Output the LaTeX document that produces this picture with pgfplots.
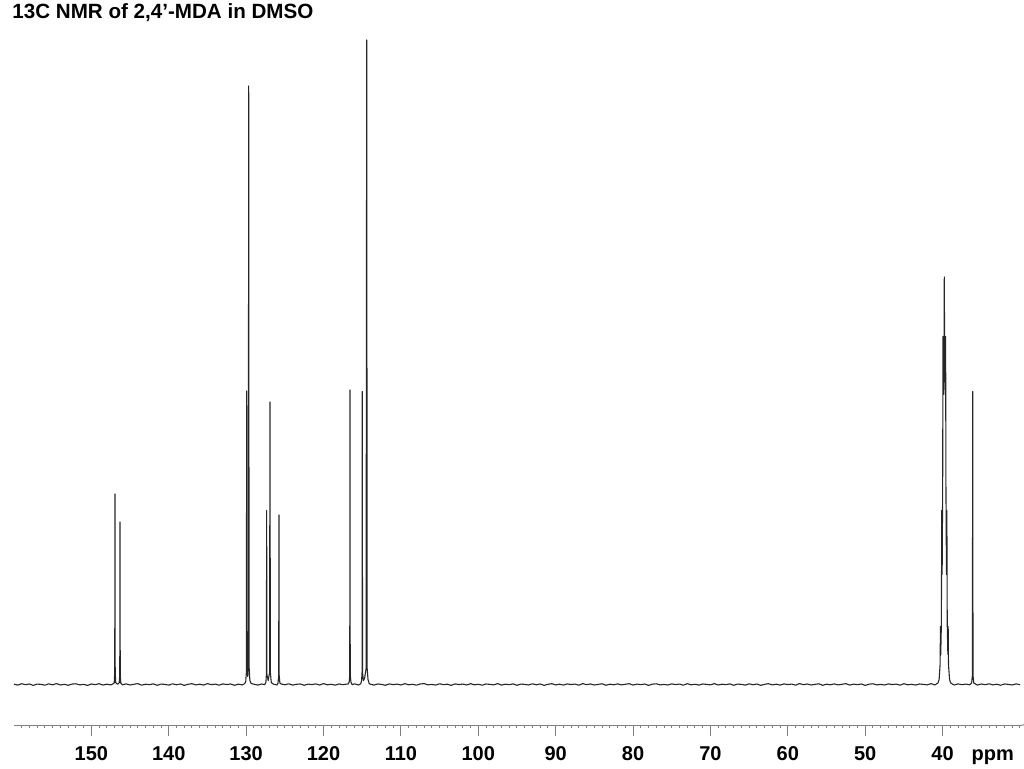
\documentclass[border=0pt]{standalone}
\usepackage{fontspec}
\setmainfont{Liberation Sans}
\usepackage{pgfplots}
\usepackage{pgfplotstable}
\pgfplotsset{compat=1.18}

% 13C spectrum of 2,4'-MDA (DMSO-d6): chemical shift / intensity
\pgfplotstableread{
ppm I
160.0 0.3
159.5 -0.6
159.0 0.8
158.5 -0.2
158.0 0.5
157.5 -0.9
157.0 0.4
156.5 0.1
156.0 -0.7
155.5 0.6
155.0 -0.3
154.5 0.9
154.0 -0.5
153.5 0.2
153.0 -0.8
152.5 0.4
152.0 0.7
151.5 -0.4
151.0 0.1
150.5 -0.9
150.0 0.5
149.5 -0.2
149.0 0.8
148.5 -0.6
148.0 0.3
147.5 -0.4
147.2 0.6
147.05 1.5
146.98 12
146.95 190.5
146.92 12
146.85 1.8
146.62 0.2
146.40 1.8
146.33 10
146.30 162.5
146.27 10
146.20 1.5
146.0 -0.3
145.5 0.6
145.0 -0.5
144.5 0.2
144.0 0.9
143.5 -0.7
143.0 0.3
142.5 -0.2
142.0 0.6
141.5 -0.8
141.0 0.4
140.5 0.1
140.0 -0.6
139.5 0.7
139.0 -0.3
138.5 0.5
138.0 -0.9
137.5 0.2
137.0 0.8
136.5 -0.4
136.0 0.3
135.5 -0.6
135.0 0.9
134.5 -0.2
134.0 0.4
133.5 -0.7
133.0 0.6
132.5 -0.1
132.0 0.5
131.5 -0.8
131.0 0.3
130.5 -0.4
130.2 0.8
130.05 3
129.97 12
129.93 293.5
129.89 14
129.80 8
129.72 20
129.67 598.5
129.62 18
129.52 4
129.35 1
129.0 0.3
128.5 -0.6
128.0 0.5
127.6 -0.2
127.45 2
127.38 10
127.35 174
127.32 10
127.15 4
126.97 12
126.92 282.5
126.87 12
126.75 2
126.5 0.4
126.0 -0.5
125.88 1.5
125.79 9
125.76 169.5
125.73 9
125.64 1.5
125.5 0.6
125.0 -0.3
124.5 0.7
124.0 -0.6
123.5 0.2
123.0 0.5
122.5 -0.8
122.0 0.4
121.5 -0.1
121.0 0.6
120.5 -0.5
120.0 0.9
119.5 -0.3
119.0 0.2
118.5 -0.7
118.0 0.5
117.5 -0.2
117.0 0.4
116.8 0.5
116.68 2.5
116.61 10
116.58 294.5
116.55 10
116.46 2.5
116.3 -0.3
116.0 0.7
115.5 -0.5
115.2 0.6
115.08 4
115.02 12
114.99 293
114.96 12
114.85 4
114.70 6
114.50 16
114.42 644.5
114.36 16
114.25 5
114.1 1
114.0 0.4
113.5 -0.6
113.0 0.5
112.5 0.1
112.0 -0.8
111.5 0.6
111.0 -0.2
110.5 0.4
110.0 -0.5
109.5 0.8
109.0 -0.3
108.5 0.2
108.0 -0.7
107.5 0.5
107.0 0.9
106.5 -0.4
106.0 0.1
105.5 -0.6
105.0 0.7
104.5 -0.2
104.0 0.3
103.5 -0.9
103.0 0.6
102.5 -0.1
102.0 0.4
101.5 -0.5
101.0 0.8
100.5 -0.3
100.0 0.2
99.5 -0.7
99.0 0.5
98.5 0.1
98.0 -0.4
97.5 0.9
97.0 -0.6
96.5 0.3
96.0 -0.2
95.5 0.6
95.0 -0.8
94.5 0.4
94.0 0.1
93.5 -0.5
93.0 0.7
92.5 -0.3
92.0 0.5
91.5 -0.9
91.0 0.2
90.5 0.8
90.0 -0.4
89.5 0.3
89.0 -0.6
88.5 0.6
88.0 -0.1
87.5 0.4
87.0 -0.7
86.5 0.9
86.0 -0.2
85.5 0.5
85.0 -0.5
84.5 0.1
84.0 0.7
83.5 -0.8
83.0 0.3
82.5 -0.3
82.0 0.6
81.5 -0.4
81.0 0.2
80.5 0.8
80.0 -0.6
79.5 0.4
79.0 -0.2
78.5 0.5
78.0 -0.9
77.5 0.3
77.0 0.7
76.5 -0.4
76.0 0.1
75.5 -0.5
75.0 0.6
74.5 -0.1
74.0 0.4
73.5 -0.7
73.0 0.8
72.5 -0.3
72.0 0.2
71.5 -0.6
71.0 0.5
70.5 0.1
70.0 -0.4
69.5 0.9
69.0 -0.5
68.5 0.3
68.0 -0.2
67.5 0.6
67.0 -0.8
66.5 0.4
66.0 0.1
65.5 -0.6
65.0 0.7
64.5 -0.3
64.0 0.5
63.5 -0.9
63.0 0.2
62.5 0.8
62.0 -0.4
61.5 0.3
61.0 -0.6
60.5 0.6
60.0 -0.1
59.5 0.4
59.0 -0.7
58.5 0.9
58.0 -0.2
57.5 0.5
57.0 -0.5
56.5 0.1
56.0 0.7
55.5 -0.8
55.0 0.3
54.5 -0.3
54.0 0.6
53.5 -0.4
53.0 0.2
52.5 0.8
52.0 -0.6
51.5 0.4
51.0 -0.2
50.5 0.5
50.0 -0.9
49.5 0.3
49.0 0.7
48.5 -0.4
48.0 0.1
47.5 -0.5
47.0 0.6
46.5 -0.1
46.0 0.4
45.5 -0.7
45.0 0.8
44.5 -0.3
44.0 0.2
43.5 -0.6
43.0 0.5
42.5 0.1
42.0 -0.4
41.5 0.9
41.0 -0.5
40.8 0.5
40.6 1.5
40.45 5
40.32 20
40.28 58
40.24 30
40.16 60
40.11 174
40.06 110
39.99 200
39.95 348
39.90 290
39.82 330
39.78 407.5
39.74 330
39.66 290
39.61 348
39.57 200
39.50 110
39.45 174
39.40 60
39.32 30
39.28 58
39.24 20
39.10 5
38.95 1.5
38.7 0.3
38.5 -0.5
38.0 0.6
37.5 -0.2
37.0 0.4
36.5 -0.3
36.25 1.5
36.15 9
36.11 293
36.07 9
35.97 1.5
35.7 0.2
35.5 -0.6
35.0 0.5
34.5 -0.2
34.0 0.7
33.5 -0.4
33.0 0.3
32.5 -0.8
32.0 0.5
31.5 0.1
31.0 -0.5
30.5 0.6
30.0 -0.2
}\spectrum

\begin{document}
\begin{tikzpicture}[x=1pt,y=1pt]
\useasboundingbox (0,0) rectangle (512,384.5);
\node[anchor=base west, inner sep=0pt,
      font=\fontsize{10.3}{12}\selectfont\bfseries] at (6,375.3)
      {13C NMR of 2,4’-MDA in DMSO};
\begin{axis}[
  at={(7pt,21.75pt)}, anchor=south west,
  scale only axis, width=503pt, height=342.75pt,
  xmin=30, xmax=160, ymin=-41, ymax=644.5,
  x dir=reverse,
  axis y line=none,
  axis x line*=bottom,
  x axis line style={-, draw=gray, line width=0.5pt},
  xtick={40,50,60,70,80,90,100,110,120,130,140,150},
  xticklabels={40,50,60,70,80,90,100,110,120,130,140,150},
  minor xtick={30,31,...,159},
  extra x ticks={33.53},
  extra x tick labels={ppm},
  extra x tick style={major tick style={draw=none}},
  tick align=outside,
  major tick length=5.5pt,
  minor tick length=1.5pt,
  every tick/.style={gray, line width=0.5pt},
  xticklabel style={font=\fontsize{10}{12}\selectfont\bfseries,
                    text=black, text height=7.2pt, text depth=2.1pt,
                    yshift=-1.2pt},
  clip=false,
]
\addplot[black!85, line width=0.55pt, line join=round, mark=none]
  table[x=ppm, y=I] {\spectrum};
\draw[gray, line width=0.5pt] (axis cs:30,-41) -- ++(0,-3pt);
\end{axis}
\end{tikzpicture}
\end{document}
